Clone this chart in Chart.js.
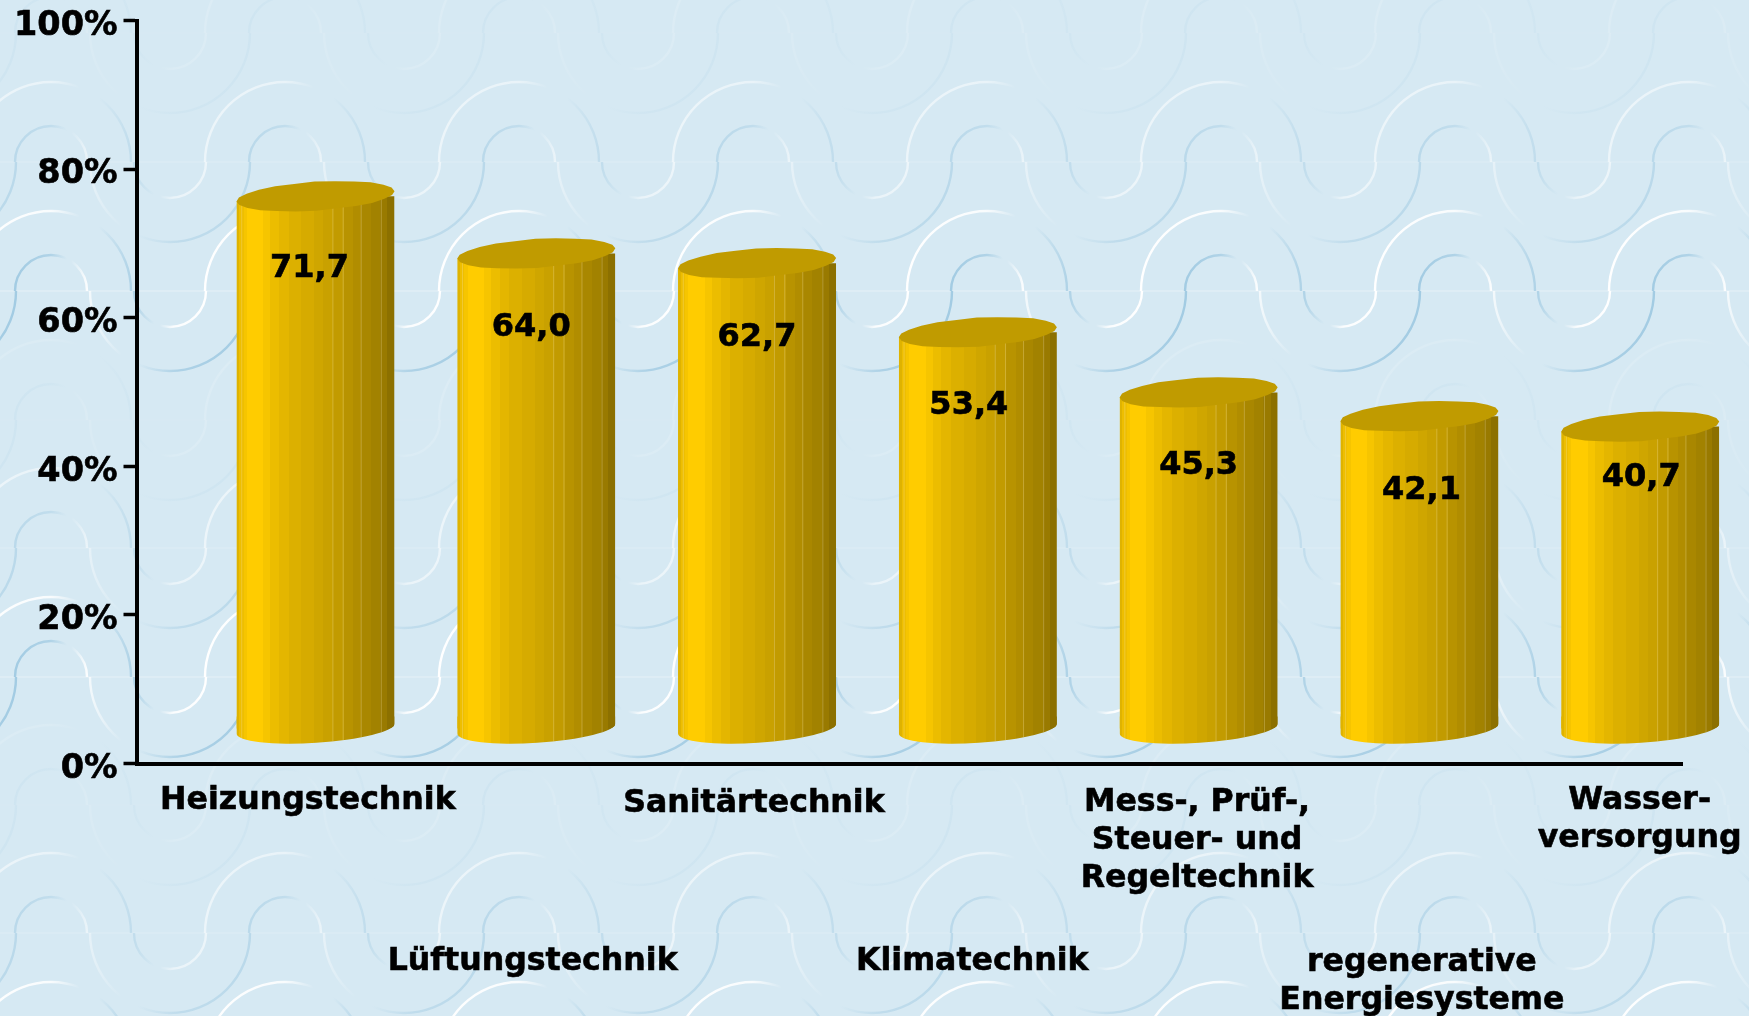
<!DOCTYPE html>
<html lang="de">
<head>
<meta charset="utf-8">
<title>Chart</title>
<style>
html,body{margin:0;padding:0;background:#d6e9f3;overflow:hidden}
canvas{display:block}
</style>
<script src="https://cdn.jsdelivr.net/npm/chart.js@4"></script>
</head>
<body>
<canvas id="c" width="1749" height="1016"></canvas>
<script>
const categories = [
  ["Heizungstechnik"],
  ["Lüftungstechnik"],
  ["Sanitärtechnik"],
  ["Klimatechnik"],
  ["Mess-, Prüf-,", "Steuer- und", "Regeltechnik"],
  ["regenerative", "Energiesysteme"],
  ["Wasser-", "versorgung"]
];
const values = [71.7, 64.0, 62.7, 53.4, 45.3, 42.1, 40.7];
const yTicks = [0, 20, 40, 60, 80, 100];

// Layout tweaks of the picture (not data)
const depthX = 68.6, depthY = -34.5;          // 3D offset of the cylinders from the axes
const tiltRad = -3.7 * Math.PI / 180, capRy = 14.3;
const catLabelDx = [61, 65, 65.5, 63, 67, 71, 68];
const catLabelY = [801, 961.5, 804, 961.5, 803, 962.5, 800.5];
const valLabelDx = [-6, -5, 0, -9, 0, 2, 1];
const valLabelDy = [37.5, 40, 40.5, 38.5, 38.5, 39.5, 17];
const facets = [0.03, 0.607, 0.672, 0.786, 0.913];
const capWobble = [1, 1.02, 0.98, 1.03, 1, 0.97, 1.02, 1, 0.98, 1.03, 1.04, 1.05, 1.03, 1.02, 0.98, 1, 1.02, 0.99, 1.03, 1, 0.98, 1.02, 0.99, 1.01];
const bands = [
  [0.018, '#dfb300'], [0.045, '#eebe00'], [0.065, '#f6c500'], [0.17, '#ffcc00'], [0.215, '#f6c500'], [0.27, '#ecbd00'],
  [0.33, '#e4b600'], [0.41, '#dcb000'], [0.49, '#d6ab00'], [0.55, '#cfa600'], [0.61, '#c9a100'], [0.68, '#c29b00'],
  [0.74, '#b89300'], [0.79, '#b18d00'], [0.85, '#a98700'], [0.91, '#a28200'], [0.955, '#997a00'], [1, '#8c7000']
];
const FONT = '"DejaVu Sans", Verdana, sans-serif';

function barGradient(ctx, left, w) {
  const g = ctx.createLinearGradient(left, 0, left + w, 0);
  let from = 0;
  for (const [to, col] of bands) {
    g.addColorStop(from, col);
    g.addColorStop(to, col);
    from = to;
  }
  return g;
}

function strokeArc(ctx, cx, cy, r, start, end, stops, alpha) {
  const g = ctx.createLinearGradient(cx - r, 0, cx + r, 0);
  for (const [p, col, a] of stops) {
    g.addColorStop(p, `rgba(${col},${a * alpha})`);
  }
  ctx.strokeStyle = g;
  ctx.beginPath();
  ctx.arc(cx, cy, r, start, end);
  ctx.stroke();
}

const W = '255,255,255', B = '160,202,226';
const backgroundPlugin = {
  id: 'waves',
  beforeDraw(chart) {
    const ctx = chart.ctx, w = chart.width, h = chart.height;
    ctx.save();
    ctx.fillStyle = '#d6e9f3';
    ctx.fillRect(0, 0, w, h);
    const rows = [33, 162, 291, 420, 548, 677, 805, 933, 1062];
    const strength = [0.14, 0.55, 1, 0.14, 0.55, 1, 0.14, 0.55, 1];
    const big = 80, small = 36, period = 234;
    ctx.lineWidth = 2.4;
    rows.forEach((cy, ri) => {
      const a = strength[ri];
      ctx.fillStyle = `rgba(255,255,255,${0.2 * a})`;
      ctx.fillRect(0, cy - 1, w, 2);
      for (let cx = 51 - period; cx < w + period; cx += period) {
        // large crest
        strokeArc(ctx, cx, cy, big, Math.PI, 2 * Math.PI,
          [[0, W, 1], [0.5, W, 0.85], [0.68, W, 0], [0.8, B, 0], [1, B, 0.7]], a);
        // small crest
        strokeArc(ctx, cx, cy, small, Math.PI, 2 * Math.PI,
          [[0, B, 0.95], [0.5, B, 0.7], [0.72, B, 0], [0.78, W, 0], [1, W, 0.9]], a);
        // small trough
        const ux = cx - 115;
        strokeArc(ctx, ux, cy, small, 0, Math.PI,
          [[0, B, 0.7], [0.28, B, 0], [0.36, W, 0], [0.55, W, 0.9], [1, W, 1]], a);
        // large trough
        strokeArc(ctx, ux, cy, big, 0, Math.PI,
          [[0, W, 0.7], [0.2, W, 0], [0.3, B, 0], [0.55, B, 0.75], [1, B, 0.95]], a);
      }
    });
    ctx.restore();
  }
};

function bodyPath(ctx, p) {
  const dy = (p.width / 2) * Math.tan(-tiltRad);
  const rx = p.width / 2 / Math.cos(tiltRad);
  ctx.moveTo(p.x - p.width / 2, p.y + dy);
  ctx.lineTo(p.x + p.width / 2, p.y - dy);
  ctx.ellipse(p.x, p.base, rx, capRy, tiltRad, 0, Math.PI);
  ctx.closePath();
}

function capPath(ctx, p) {
  const rx = p.width / 2 / Math.cos(tiltRad);
  const cos = Math.cos(tiltRad), sin = Math.sin(tiltRad);
  ctx.beginPath();
  capWobble.forEach((k, i) => {
    const t = (i / capWobble.length) * 2 * Math.PI;
    const ex = rx * Math.cos(t), ey = capRy * k * Math.sin(t);
    const px = p.x + ex * cos - ey * sin, py = p.y + ex * sin + ey * cos;
    if (i === 0) ctx.moveTo(px, py); else ctx.lineTo(px, py);
  });
  ctx.closePath();
}

const cylinderPlugin = {
  id: 'cylinders',
  afterUpdate(chart) {
    const sx = chart.scales.x, sy = chart.scales.y;
    sx.getLabelItems().forEach((it, i) => {
      it.options.translation[0] = sx.getPixelForTick(i) + catLabelDx[i];
      it.options.translation[1] = catLabelY[i] - it.textOffset;
    });
    sy.getLabelItems().forEach(it => { it.options.translation[1] += 5.5; });
  },
  beforeDatasetDraw(chart, args) {
    const ctx = chart.ctx;
    ctx.save();
    ctx.translate(depthX, depthY);
    const meta = chart.getDatasetMeta(args.index);
    ctx.beginPath();
    meta.data.forEach(el => bodyPath(ctx, el.getProps(['x', 'y', 'base', 'width'], true)));
    ctx.clip();
  },
  afterDatasetDraw(chart, args) {
    const ctx = chart.ctx;
    const meta = chart.getDatasetMeta(args.index);
    meta.data.forEach(el => {
      const p = el.getProps(['x', 'y', 'base', 'width'], true);
      const left = p.x - p.width / 2;
      // lower rounded end of the cylinder (clip still active)
      ctx.fillStyle = barGradient(ctx, left, p.width);
      ctx.fillRect(left, p.base - 12, p.width, 32);
      // thin facet highlights
      ctx.fillStyle = 'rgba(245,230,170,0.3)';
      facets.forEach(f => ctx.fillRect(left + f * p.width, p.y - 20, 1, p.base - p.y + 40));
    });
    ctx.restore();
    ctx.save();
    ctx.translate(depthX, depthY);
    meta.data.forEach(el => {
      const p = el.getProps(['x', 'y', 'base', 'width'], true);
      ctx.fillStyle = '#c09b00';
      capPath(ctx, p);
      ctx.fill();
    });
    ctx.restore();
    // value labels
    ctx.save();
    ctx.fillStyle = '#000';
    ctx.strokeStyle = '#000';
    ctx.lineWidth = 0.6;
    ctx.font = `bold 32px ${FONT}`;
    ctx.textAlign = 'center';
    ctx.textBaseline = 'middle';
    meta.data.forEach((el, i) => {
      const p = el.getProps(['x', 'y'], true);
      const txt = values[i].toFixed(1).replace('.', ',');
      ctx.fillText(txt, p.x + depthX + valLabelDx[i], p.y + valLabelDy[i]);
      ctx.strokeText(txt, p.x + depthX + valLabelDx[i], p.y + valLabelDy[i]);
    });
    ctx.restore();
  }
};

new Chart(document.getElementById('c'), {
  type: 'bar',
  data: {
    labels: categories,
    datasets: [{
      data: values,
      borderWidth: 0,
      barPercentage: 0.716,
      categoryPercentage: 1,
      backgroundColor(c) {
        const ch = c.chart, sx = ch.scales.x;
        if (!sx || !ch.chartArea || c.dataIndex === undefined) return '#d9ae00';
        const step = sx.width / categories.length, w = step * 0.716;
        return barGradient(ch.ctx, sx.getPixelForTick(c.dataIndex) - w / 2, w);
      }
    }]
  },
  options: {
    responsive: false,
    animation: false,
    events: [],
    layout: { padding: { top: 20.5, right: 67, left: 0, bottom: 0 } },
    plugins: { legend: { display: false }, tooltip: { enabled: false }, title: { display: false } },
    scales: {
      x: {
        grid: { display: false },
        border: { display: true, color: '#000', width: 4 },
        afterFit(s) { s.height = 252.5; },
        ticks: {
          autoSkip: false, maxRotation: 0, minRotation: 0, padding: 10,
          color: '#000', textStrokeColor: '#000', textStrokeWidth: 0.6,
          font: { family: FONT, weight: 'bold', size: 31.6, lineHeight: '38px' }
        }
      },
      y: {
        min: 0, max: 100,
        afterFit(s) { s.width = 136.5; s.paddingTop = 0; s.paddingBottom = 0; },
        afterBuildTicks(s) { s.ticks = yTicks.map(v => ({ value: v })); },
        grid: { drawOnChartArea: false, drawTicks: true, tickLength: 13, tickWidth: 3.5, tickColor: '#000' },
        border: { display: true, color: '#000', width: 4 },
        ticks: {
          padding: 6, color: '#000', textStrokeColor: '#000', textStrokeWidth: 0.6,
          font: { family: FONT, weight: 'bold', size: 33.5 },
          callback: v => v + '%'
        }
      }
    }
  },
  plugins: [backgroundPlugin, cylinderPlugin]
});
</script>
</body>
</html>
